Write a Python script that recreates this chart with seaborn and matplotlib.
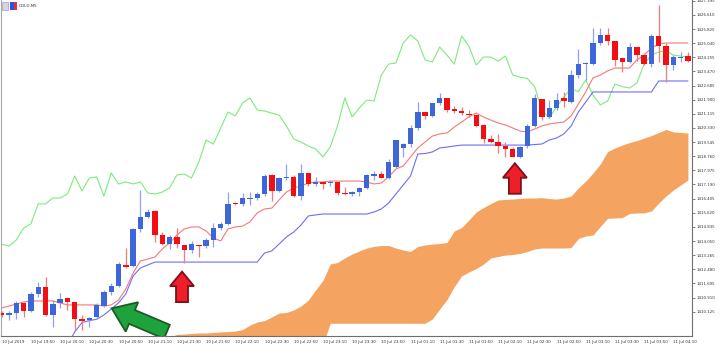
import numpy as np
import pandas as pd
import matplotlib
matplotlib.use("Agg")
import matplotlib.pyplot as plt
import seaborn as sns
from matplotlib.patches import Polygon, Rectangle
from matplotlib.transforms import IdentityTransform

sns.set_style("white")
plt.rcParams['font.family'] = ['DejaVu Sans']

# ---------------- data (GOLD, M5) ----------------
open_ = [1410.07, 1409.94, 1410.05, 1410.61, 1410.16, 1411.11, 1411.50, 1409.94, 1410.61, 1410.88,
         1410.66, 1409.72, 1409.66, 1409.83, 1410.44, 1411.22, 1411.55, 1412.72, 1412.66, 1414.72,
         1415.38, 1415.72, 1414.38, 1413.88, 1414.27, 1413.83, 1413.55, 1413.83, 1413.77, 1414.11,
         1414.77, 1415.00, 1416.16, 1416.11, 1416.38, 1416.44, 1416.66, 1417.72, 1416.83, 1417.55,
         1417.61, 1416.55, 1417.83, 1417.22, 1417.33, 1417.27, 1417.33, 1416.72, 1416.66, 1416.77,
         1417.00, 1417.66, 1417.77, 1417.55, 1418.16, 1419.22, 1419.44, 1420.33, 1421.22, 1421.00,
         1421.72, 1422.00, 1421.39, 1421.27, 1421.11, 1421.05, 1420.50, 1419.72, 1419.55, 1419.33,
         1419.16, 1418.72, 1419.33, 1420.44, 1421.94, 1420.94, 1421.44, 1422.00, 1421.77, 1423.27,
         1423.88, 1423.88, 1425.05, 1425.50, 1425.16, 1424.22, 1424.00, 1424.83, 1424.38, 1423.88,
         1425.44, 1424.88, 1423.83, 1424.25, 1424.33]
high_ = [1410.16, 1410.16, 1410.72, 1410.66, 1411.22, 1411.77, 1412.05, 1410.77, 1411.16, 1410.90,
         1410.68, 1409.94, 1409.83, 1410.61, 1411.33, 1411.72, 1412.88, 1413.66, 1414.77, 1416.88,
         1415.83, 1415.77, 1414.55, 1414.38, 1414.77, 1413.85, 1414.05, 1413.85, 1414.22, 1415.05,
         1415.11, 1416.77, 1416.22, 1416.72, 1416.77, 1416.77, 1417.77, 1417.77, 1417.61, 1418.33,
         1417.72, 1418.33, 1417.85, 1417.61, 1417.35, 1417.44, 1417.35, 1417.05, 1416.83, 1417.05,
         1417.77, 1417.94, 1417.94, 1418.61, 1419.68, 1419.50, 1420.50, 1421.77, 1421.24, 1421.74,
         1422.27, 1422.02, 1421.55, 1421.50, 1421.33, 1421.07, 1420.55, 1419.94, 1420.00, 1419.55,
         1419.27, 1419.33, 1420.55, 1422.22, 1421.96, 1421.88, 1422.27, 1422.33, 1423.55, 1424.72,
         1424.00, 1425.88, 1425.88, 1425.88, 1425.18, 1424.24, 1425.05, 1424.85, 1424.50, 1425.55,
         1427.16, 1425.05, 1424.38, 1424.55, 1424.55]
low_ = [1409.83, 1409.66, 1409.72, 1409.83, 1410.11, 1410.94, 1409.89, 1409.27, 1410.33, 1410.22,
        1409.11, 1409.11, 1409.27, 1409.77, 1410.38, 1411.05, 1411.50, 1412.55, 1412.61, 1414.55,
        1415.33, 1414.00, 1413.83, 1413.61, 1413.66, 1412.83, 1413.38, 1413.16, 1413.66, 1413.72,
        1414.66, 1414.94, 1416.05, 1415.99, 1416.05, 1416.33, 1416.55, 1416.27, 1416.77, 1417.44,
        1416.50, 1416.33, 1417.11, 1417.11, 1416.94, 1417.11, 1416.61, 1416.61, 1416.55, 1416.55,
        1416.94, 1417.44, 1417.53, 1417.50, 1418.11, 1418.72, 1419.27, 1420.22, 1420.83, 1420.94,
        1421.61, 1421.22, 1421.16, 1421.05, 1420.94, 1420.38, 1419.50, 1419.50, 1418.94, 1418.72,
        1418.70, 1418.66, 1419.22, 1420.38, 1420.77, 1420.88, 1421.33, 1421.50, 1421.72, 1423.11,
        1423.00, 1423.83, 1424.94, 1424.94, 1423.77, 1423.44, 1423.94, 1424.05, 1423.83, 1423.72,
        1424.00, 1422.88, 1423.55, 1424.00, 1424.00]
close_ = [1409.94, 1410.05, 1410.61, 1410.16, 1411.11, 1411.50, 1409.94, 1410.55, 1410.83, 1410.66,
          1409.72, 1409.61, 1409.77, 1410.50, 1411.22, 1411.55, 1412.77, 1412.61, 1414.72, 1415.38,
          1415.66, 1414.38, 1413.88, 1414.27, 1413.88, 1413.55, 1413.88, 1413.77, 1414.11, 1414.77,
          1415.00, 1416.11, 1416.11, 1416.44, 1416.44, 1416.66, 1417.66, 1416.83, 1417.55, 1417.61,
          1416.55, 1417.83, 1417.22, 1417.33, 1417.22, 1417.33, 1416.72, 1416.66, 1416.77, 1417.00,
          1417.72, 1417.77, 1417.55, 1418.44, 1419.66, 1419.44, 1420.33, 1421.22, 1421.00, 1421.72,
          1422.00, 1421.33, 1421.27, 1421.16, 1421.05, 1420.44, 1419.72, 1419.55, 1419.33, 1419.16,
          1418.72, 1419.27, 1420.44, 1422.00, 1420.94, 1421.44, 1421.88, 1421.83, 1423.27, 1423.88,
          1423.94, 1425.05, 1425.50, 1425.16, 1424.11, 1424.00, 1424.83, 1424.38, 1423.88, 1425.44,
          1424.88, 1423.83, 1424.27, 1424.27, 1424.05]

# closes after the visible window (feed the lagging span at the right)
chikou_tail = [1424.33, 1423.27, 1423.16, 1423.08, 1422.63, 1421.33, 1420.88, 1421.50, 1422.05,
               1422.52, 1422.35, 1423.00, 1422.16, 1421.61, 1421.83, 1422.77, 1422.63, 1422.55,
               1422.83, 1423.88, 1424.38, 1424.55, 1424.63, 1424.38, 1424.33, 1424.25]

tenkan = [1410.33, 1410.44, 1410.55, 1410.66, 1410.72, 1410.72, 1410.72, 1410.72, 1410.61, 1410.50,
          1410.50, 1410.50, 1410.50, 1410.50, 1410.44, 1410.50, 1410.77, 1411.38, 1412.27, 1412.94,
          1413.05, 1413.16, 1413.61, 1413.94, 1414.38, 1414.72, 1414.83, 1414.83, 1414.61, 1414.22,
          1414.05, 1414.72, 1414.83, 1414.88, 1415.11, 1415.61, 1415.83, 1415.88, 1416.33, 1416.77,
          1417.00, 1417.11, 1417.27, 1417.33, 1417.33, 1417.38, 1417.38, 1417.38, 1417.38, 1417.38,
          1417.33, 1417.22, 1417.27, 1417.61, 1418.05, 1418.22, 1418.72, 1419.22, 1419.55, 1419.88,
          1420.00, 1420.05, 1420.38, 1420.66, 1420.94, 1421.16, 1420.94, 1420.77, 1420.61, 1420.50,
          1420.33, 1420.16, 1420.11, 1420.27, 1420.44, 1420.55, 1420.61, 1420.66, 1421.00, 1421.66,
          1422.33, 1423.11, 1423.27, 1423.50, 1423.66, 1423.66, 1423.66, 1424.11, 1424.38, 1424.77,
          1425.00, 1425.05, 1425.05, 1425.05, 1425.05]

kijun = [1408.27, 1408.27, 1408.27, 1408.27, 1408.27, 1408.27, 1408.27, 1408.27, 1408.27, 1408.27,
         1409.00, 1409.52, 1409.63, 1409.70, 1409.94, 1410.27, 1410.61, 1411.11, 1412.11, 1412.55,
         1412.72, 1412.88, 1412.88, 1412.88, 1412.88, 1412.88, 1412.88, 1412.88, 1412.88, 1412.88,
         1412.88, 1412.88, 1412.88, 1412.88, 1412.88, 1412.88, 1413.38, 1413.50, 1413.88, 1414.27,
         1414.55, 1414.94, 1415.44, 1415.50, 1415.55, 1415.55, 1415.55, 1415.55, 1415.55, 1415.55,
         1415.55, 1415.66, 1415.83, 1416.16, 1416.66, 1417.16, 1417.66, 1418.88, 1418.91, 1419.00,
         1419.22, 1419.27, 1419.33, 1419.38, 1419.38, 1419.38, 1419.38, 1419.38, 1419.38, 1419.38,
         1419.38, 1419.38, 1419.38, 1419.41, 1419.44, 1419.66, 1419.77, 1420.00, 1420.44, 1421.22,
         1421.77, 1422.33, 1422.33, 1422.33, 1422.33, 1422.33, 1422.33, 1422.33, 1422.33, 1422.33,
         1422.94, 1422.94, 1422.94, 1422.94, 1422.94]

senkou_a = [1408.44, 1408.44, 1408.44, 1408.44, 1408.44, 1408.44, 1408.44, 1408.44, 1408.44, 1408.44,
            1408.44, 1408.44, 1408.44, 1408.44, 1408.44, 1408.44, 1408.44, 1408.44, 1408.44, 1408.44,
            1408.44, 1408.44, 1408.44, 1408.72, 1408.86, 1408.88, 1408.91, 1408.94, 1408.94, 1408.97,
            1409.00, 1409.02, 1409.05, 1409.13, 1409.38, 1409.55, 1409.63, 1409.83, 1410.05, 1410.08,
            1410.22, 1410.44, 1410.77, 1411.33, 1411.86, 1412.77, 1412.86, 1413.11, 1413.33, 1413.50,
            1413.66, 1413.75, 1413.80, 1413.80, 1413.66, 1413.55, 1413.47, 1413.75, 1413.83, 1413.88,
            1413.91, 1413.97, 1414.61, 1414.80, 1415.22, 1415.66, 1415.91, 1416.13, 1416.33, 1416.36,
            1416.38, 1416.42, 1416.44, 1416.44, 1416.46, 1416.41, 1416.38, 1416.44, 1416.55, 1417.00,
            1417.38, 1417.83, 1418.33, 1419.02, 1419.22, 1419.38, 1419.52, 1419.63, 1419.77, 1419.91,
            1420.08, 1420.25, 1420.11, 1420.08, 1420.05]

senkou_b = [1408.27, 1408.27, 1408.27, 1408.27, 1408.27, 1408.27, 1408.27, 1408.27, 1408.27, 1408.27,
            1408.27, 1408.27, 1408.27, 1408.27, 1408.27, 1408.27, 1408.27, 1408.27, 1408.27, 1408.27,
            1408.27, 1408.27, 1408.27, 1408.27, 1408.27, 1408.27, 1408.27, 1408.27, 1408.27, 1408.27,
            1408.27, 1408.27, 1408.27, 1408.27, 1408.27, 1408.27, 1408.27, 1408.27, 1408.27, 1408.27,
            1408.27, 1408.27, 1408.27, 1408.27, 1408.27, 1409.48, 1409.48, 1409.48, 1409.48, 1409.48,
            1409.48, 1409.48, 1409.48, 1409.48, 1409.48, 1409.48, 1409.48, 1409.48, 1409.48, 1409.72,
            1410.27, 1410.80, 1411.52, 1412.11, 1412.33, 1412.52, 1412.77, 1413.11, 1413.19, 1413.27,
            1413.30, 1413.36, 1413.47, 1413.61, 1413.66, 1413.66, 1413.66, 1413.66, 1413.69, 1414.19,
            1414.33, 1414.38, 1414.86, 1415.31, 1415.33, 1415.35, 1415.58, 1415.61, 1415.61, 1415.72,
            1416.16, 1416.55, 1416.88, 1417.16, 1417.44]

x_tick_bars = [0, 4, 8, 12, 16, 20, 24, 28, 32, 36, 40, 44, 48, 52, 56, 60, 64, 68, 72, 76, 80, 84, 88, 92]
x_tick_labels = ["10 Jul 2019", "10 Jul 19:50", "10 Jul 20:10", "10 Jul 20:30", "10 Jul 20:50",
                 "10 Jul 21:10", "10 Jul 21:30", "10 Jul 21:50", "10 Jul 22:10", "10 Jul 22:30",
                 "10 Jul 22:50", "10 Jul 23:10", "10 Jul 23:30", "10 Jul 23:50", "11 Jul 01:10",
                 "11 Jul 01:30", "11 Jul 01:50", "11 Jul 02:10", "11 Jul 02:30", "11 Jul 02:50",
                 "11 Jul 03:10", "11 Jul 03:30", "11 Jul 03:50", "11 Jul 04:10"]
y_tick_values = [1427.395, 1426.610, 1425.825, 1425.040, 1424.255, 1423.470, 1422.685, 1421.900,
                 1421.115, 1420.330, 1419.545, 1418.760, 1417.975, 1417.190, 1416.405, 1415.620,
                 1414.835, 1414.050, 1413.265, 1412.480, 1411.695, 1410.910, 1410.125]

# annotation anchors (bar index, price of arrow tip)
up_arrow_bars = [24.7, 70.3]
up_arrow_prices = [1412.35, 1418.37]
green_arrow_bar = 15.07
green_arrow_price = 1410.31

# ---------------- figure ----------------
W, H = 720, 347
fig = plt.figure(figsize=(W / 100, H / 100), dpi=100)
fig.patch.set_facecolor("white")
ax = fig.add_axes([1 / W, 11 / H, 691 / W, 336 / H])
ax.set_facecolor("white")

n = len(close_)
bars = np.arange(n)
ax.set_xlim(-0.096, 94.56)
ax.set_ylim(1408.773, 1427.44)

# Kumo
ax.fill_between(bars, senkou_a, senkou_b, color="#F4A460", lw=0, zorder=1)

# lagging span computed from closes
chikou = pd.Series(close_ + chikou_tail).shift(-26).iloc[:n].to_numpy()

sns.lineplot(x=bars, y=chikou, ax=ax, color="#7CEB7C", lw=0.8, estimator=None, legend=False, zorder=2)
sns.lineplot(x=bars, y=kijun, ax=ax, color="#6E6EF5", lw=0.8, estimator=None, legend=False, zorder=2)
sns.lineplot(x=bars, y=tenkan, ax=ax, color="#F57878", lw=0.8, estimator=None, legend=False, zorder=2)

# candles
o = np.array(open_); c = np.array(close_); hi = np.array(high_); lo = np.array(low_)
up = c >= o
BLUE, RED = "#3D66D9", "#F20F14"
WBLUE, WRED = "#8FA3EC", "#F77A7A"
wick_cols = [WBLUE if u else WRED for u in up]
body_cols = [BLUE if u else RED for u in up]
ax.vlines(bars, lo, hi, colors=wick_cols, lw=0.9, zorder=3)
minh = 0.07
diff = np.abs(c - o)
bh = np.maximum(diff, minh)
bb = np.minimum(o, c) - (bh - diff) / 2
ax.bar(bars, bh, bottom=bb, width=0.74, color=body_cols, lw=0, zorder=4)

# axes styling
for s in ["top"]:
    ax.spines[s].set_visible(False)
ax.spines["left"].set_color("#A8A8A8")
ax.spines["left"].set_linewidth(0.8)
ax.spines["right"].set_color("#6E6E6E")
ax.spines["right"].set_linewidth(0.8)
ax.spines["bottom"].set_color("#6E6E6E")
ax.spines["bottom"].set_linewidth(0.8)

ax.yaxis.tick_right()
ax.set_yticks(y_tick_values)
ax.set_yticklabels([f"{v:.3f}" for v in y_tick_values])
ax.tick_params(axis="y", direction="out", length=2.2, width=0.5, colors="#555555",
               labelsize=2.8, pad=0.8, labelcolor="#333333")
ax.set_xticks(x_tick_bars)
ax.set_xticklabels(x_tick_labels)
ax.tick_params(axis="x", direction="out", length=2.2, width=0.5, colors="#555555",
               labelsize=2.9, pad=0.6, labelcolor="#333333")
for lab in ax.get_xticklabels():
    lab.set_horizontalalignment("left")
ax.set_xlabel(""); ax.set_ylabel("")
ax.grid(False)

# ---------------- arrows (pixel geometry) ----------------
fig.canvas.draw()

def add_arrow(bx, py, pts, face, edge, lw):
    tx, ty = ax.transData.transform((bx, py))
    verts = [(tx + dx, ty - dy) for dx, dy in pts]
    ax.add_patch(Polygon(verts, closed=True, transform=IdentityTransform(),
                         facecolor=face, edgecolor=edge, lw=lw, zorder=6, joinstyle="miter"))

up_pts = [(0, 0), (12, 14.5), (6, 14.5), (6, 30.5), (-6, 30.5), (-6, 14.5), (-12, 14.5)]
for bx, py in zip(up_arrow_bars, up_arrow_prices):
    add_arrow(bx, py, up_pts, "#EE1F2B", "#7D1019", 1.3)

u = np.array([0.92, 0.39]); v = np.array([-0.39, 0.92])
hl, hw, sw, L = 22, 16, 7.5, 60
g_pts = [tuple(np.zeros(2)),
         tuple(hl * u - hw * v), tuple(hl * u - sw * v), tuple(L * u - sw * v),
         tuple(L * u + sw * v), tuple(hl * u + sw * v), tuple(hl * u + hw * v)]
add_arrow(green_arrow_bar, green_arrow_price, g_pts, "#1EA23C", "#1D5A28", 1.3)

# ---------------- title with icon ----------------
fig.patches.append(Rectangle((2 / W, 1 - 9.5 / H), 6 / W, 7 / H, transform=fig.transFigure,
                             facecolor="#D9D3EA", edgecolor="#8E8EB5", lw=0.4))
fig.patches.append(Rectangle((10 / W, 1 - 9.5 / H), 3.5 / W, 7 / H, transform=fig.transFigure,
                             facecolor="#3052E0", edgecolor="none"))
fig.patches.append(Rectangle((13.5 / W, 1 - 9.5 / H), 3.5 / W, 7 / H, transform=fig.transFigure,
                             facecolor="#E0303C", edgecolor="none"))
fig.text(19 / W, 1 - 6 / H, "GOLD,M5", fontsize=2.9, color="#333333", va="center", ha="left")

fig.savefig("out.png", dpi=100)
